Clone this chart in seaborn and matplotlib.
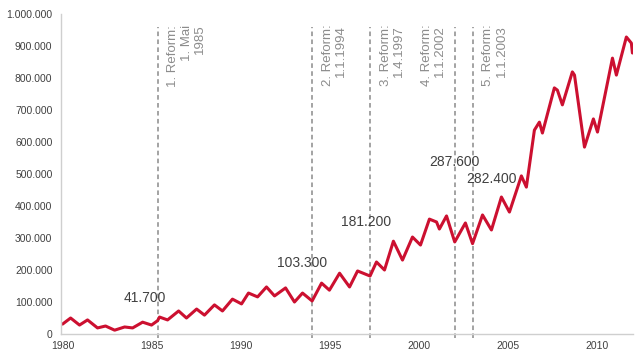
import matplotlib
matplotlib.use("Agg")
import matplotlib.pyplot as plt
import matplotlib.ticker as mticker
import pandas as pd
import seaborn as sns

# values (peaks / troughs of the seasonal wave)
years = [1980.0, 1980.45, 1980.95, 1981.40, 1981.96, 1982.41, 1982.92, 1983.48,
         1983.93, 1984.49, 1984.99, 1985.33, 1985.44, 1985.89, 1986.51, 1986.95,
         1987.52, 1987.96, 1988.52, 1988.97, 1989.53, 1990.04, 1990.43, 1990.94,
         1991.44, 1991.89, 1992.51, 1993.01, 1993.46, 1994.0, 1994.53, 1994.97,
         1995.54, 1996.10, 1996.55, 1997.25, 1997.61, 1998.06, 1998.56, 1999.07,
         1999.63, 2000.08, 2000.58, 2000.98, 2001.14, 2001.54, 2002.0, 2002.60,
         2003.0, 2003.56, 2004.06, 2004.62, 2005.07, 2005.74, 2006.02, 2006.47,
         2006.75, 2006.92, 2007.59, 2007.76, 2008.04, 2008.60, 2008.72, 2009.28,
         2009.78, 2010.01, 2010.85, 2011.07, 2011.63, 2011.91, 2011.97]
values = [31000, 50000, 28000, 44000, 19000, 25000, 12000, 22000,
          19000, 37000, 28000, 41700, 53000, 44000, 72000, 50000,
          78000, 59000, 91000, 72000, 109000, 94000, 128000, 116000,
          147000, 119000, 144000, 100000, 128000, 103300, 159000, 137000,
          190000, 147000, 197000, 181200, 225000, 200000, 290000, 231000,
          303000, 278000, 359000, 350000, 328000, 369000, 287600, 347000,
          282400, 372000, 325000, 428000, 381000, 494000, 459000, 637000,
          662000, 628000, 769000, 762000, 716000, 819000, 809000, 584000,
          672000, 631000, 862000, 809000, 928000, 909000, 878000]

# reforms
reform_dates = [1985.33, 1994.0, 1997.25, 2002.0, 2003.0]
reform_texts = ["1. Reform:\n1. Mai\n1985", "2. Reform:\n1.1.1994",
                "3. Reform:\n1.4.1997", "4. Reform:\n1.1.2002",
                "5. Reform:\n1.1.2003"]
reform_side = ["right", "right", "right", "left", "right"]

# value labels
label_texts = ["41.700", "103.300", "181.200", "287.600", "282.400"]
label_x = [1984.6, 1993.46, 1997.05, 2001.99, 2004.06]
label_y = [112500, 222000, 350000, 537500, 484000]

df = pd.DataFrame({"year": years, "value": values})

sns.set_style("white")
plt.rcParams["font.family"] = ["Liberation Sans", "DejaVu Sans"]

fig = plt.figure(figsize=(6.4, 3.58), dpi=100)
ax = fig.add_axes([0.095, 0.067, 0.894, 0.894])

sns.lineplot(data=df, x="year", y="value", ax=ax, color="#cc1030",
             linewidth=2.2, solid_joinstyle="round")

for d, txt, side in zip(reform_dates, reform_texts, reform_side):
    ax.vlines(d, -12000, 958000, colors="#8a8a8a", linestyles=(0, (3, 2.2)),
              linewidth=1.1, clip_on=False, zorder=1)
    if side == "right":
        ax.annotate(txt, xy=(d, 966000), xytext=(7, 0), textcoords="offset points",
                    rotation=90, ha="left", va="top", multialignment="right",
                    fontsize=9.5, color="#8c8c8c", linespacing=1.15)
    else:
        ax.annotate(txt, xy=(d, 966000), xytext=(-6, 0), textcoords="offset points",
                    rotation=90, ha="right", va="top", multialignment="right",
                    fontsize=9.5, color="#8c8c8c", linespacing=1.15)

for t, x, y in zip(label_texts, label_x, label_y):
    ax.text(x, y, t, ha="center", va="center", fontsize=10, color="#404040")

ax.set_xlim(1979.9, 2012.0)
ax.set_ylim(0, 1000000)
ax.set_xticks([1980, 1985, 1990, 1995, 2000, 2005, 2010])
ax.set_yticks(range(0, 1000001, 100000))
ax.yaxis.set_major_formatter(mticker.FuncFormatter(lambda v, p: f"{v:,.0f}".replace(",", ".")))
ax.tick_params(axis="both", length=0, labelsize=7.5, labelcolor="#404040")
ax.tick_params(axis="y", pad=6)
ax.tick_params(axis="x", pad=5)
ax.set_xlabel("")
ax.set_ylabel("")

sns.despine(ax=ax)
for s in ["left", "bottom"]:
    ax.spines[s].set_color("#cfcfcf")
    ax.spines[s].set_linewidth(1.0)

fig.savefig("out.png", dpi=100)
